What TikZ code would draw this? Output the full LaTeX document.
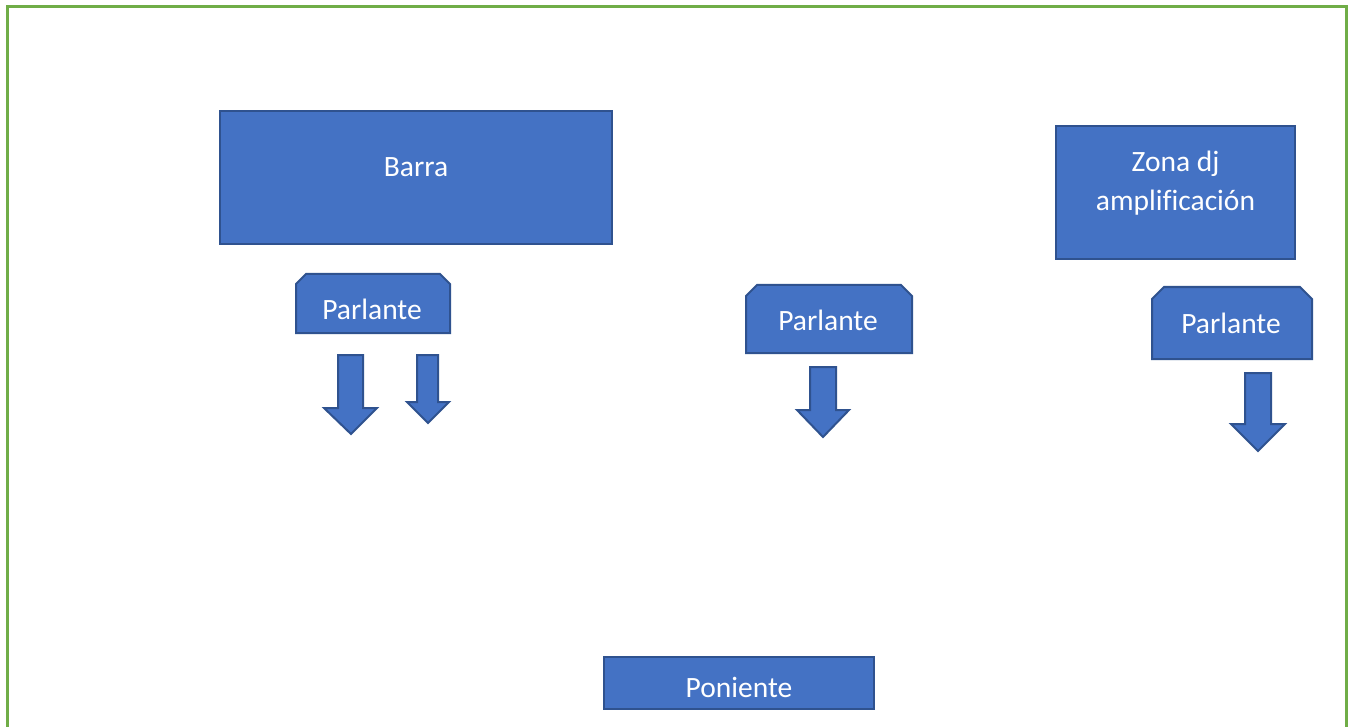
\documentclass[tikz,border=0pt]{standalone}
\usepackage{fontspec}
\setmainfont[Ligatures=CommonOff]{Carlito}
\definecolor{boxfill}{HTML}{4472C4}
\definecolor{boxline}{HTML}{2F528F}
\definecolor{framegreen}{HTML}{70AD47}
\tikzset{
  blockbox/.style={draw=boxline, fill=boxfill, line width=2pt, inner sep=0pt},
  snipshape/.style={draw=boxline, fill=boxfill, line width=2pt, line join=miter},
  boxtext/.style={text=white, font=\fontsize{29.5}{39}\selectfont, anchor=base, inner sep=0pt, align=center},
  downarrow/.style={draw=boxline, fill=boxfill, line width=2pt, line join=miter},
  frameline/.style={draw=framegreen, line width=3pt}
}
\newcommand\snipbox[5]{% left, top, right, bottom, snip
  \draw[snipshape] (#1,#4) -- (#1,#2+#5) -- (#1+#5,#2) -- (#3-#5,#2) -- (#3,#2+#5) -- (#3,#4) -- cycle;}
\begin{document}
\begin{tikzpicture}[x=1pt,y=-1pt]
\useasboundingbox (0,0) rectangle (1354,727);
\clip (0,0) rectangle (1354,727);
\fill[white] (0,0) rectangle (1354,727);
\draw[frameline] (7,7) rectangle (1346,760);

% Barra
\node[blockbox, minimum width=392pt, minimum height=133pt] (barra) at (416,177.5) {};
\node[boxtext] (barraT) at (416,177) {Barra};

% Zona dj
\node[blockbox, minimum width=239pt, minimum height=133pt] (zona) at (1175.5,192.5) {};
\node[boxtext] (zonaT1) at (1175.5,172) {Zona dj};
\node[boxtext] (zonaT2) at (1175.5,211) {amplificación};

% Parlantes
\snipbox{296}{274}{450}{333}{10}
\node[boxtext] (p1T) at (372,319) {Parlante};
\snipbox{746}{285}{912}{353}{11}
\node[boxtext] (p2T) at (828,330) {Parlante};
\snipbox{1152}{287}{1312}{359}{12}
\node[boxtext] (p3T) at (1231,333) {Parlante};

% Arrows
\draw[downarrow] (338,355) -- (363,355) -- (363,408) -- (377,408) -- (351,434) -- (324,408) -- (338,408) -- cycle;
\draw[downarrow] (417,355) -- (438,355) -- (438,402) -- (449,402) -- (428,423) -- (407,402) -- (417,402) -- cycle;
\draw[downarrow] (810,367) -- (836,367) -- (836,410) -- (849,410) -- (823,437) -- (797,410) -- (810,410) -- cycle;
\draw[downarrow] (1245,373) -- (1271,373) -- (1271,424) -- (1285,424) -- (1258,451) -- (1231,424) -- (1245,424) -- cycle;

% Poniente
\node[blockbox, minimum width=270pt, minimum height=52pt] (pon) at (739,683) {};
\node[boxtext] (ponT) at (739,697) {Poniente};
\end{tikzpicture}
\end{document}
